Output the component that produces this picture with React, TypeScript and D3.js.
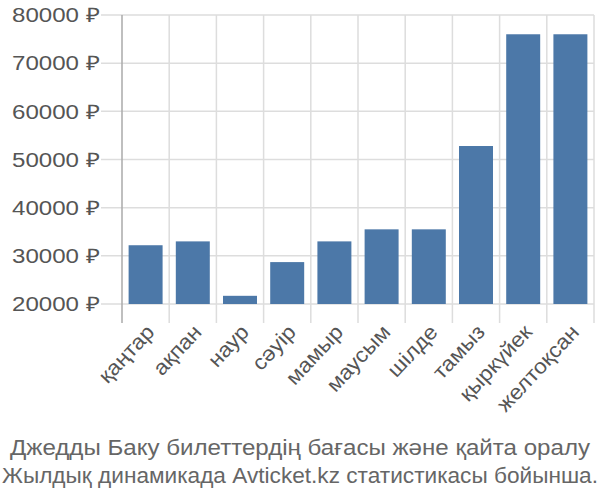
import React from "react";
import * as d3 from "d3";

const months = ["қаңтар", "ақпан", "наур", "сәуір", "мамыр", "маусым", "шілде", "тамыз", "қыркүйек", "желтоқсан"];
const prices = [32200, 33000, 21700, 28700, 33000, 35500, 35500, 52800, 76000, 76000];
const yTicks = [20000, 30000, 40000, 50000, 60000, 70000, 80000];
const titleLines = ["Джедды Баку билеттердің бағасы және қайта оралу", "Жылдық динамикада Avticket.kz статистикасы бойынша."];
const titleWidths = [580, 596];

export default function App() {
  const W = 600, H = 500;
  const left = 122, right = 594, top = 15, bottom = 304;
  const x = d3.scaleBand<string>().domain(months).range([left, right]).paddingInner(0.28).paddingOuter(0.14);
  const y = d3.scaleLinear().domain([20000, 80000]).range([bottom, top]);
  const step = x.step();
  const font = "'Liberation Sans', Arial, sans-serif";
  return (
    <svg width={W} height={H} style={{ position: "absolute", left: 0, top: 0 }} fontFamily={font}>
      {yTicks.map((t) => (
        <g key={t}>
          <line x1={101} x2={right} y1={y(t)} y2={y(t)} stroke="#ddd" strokeWidth={1.5} />
          <text x={12} y={y(t)} dy="0.36em" textAnchor="start" fontSize={20} fill="#555" textLength={88} lengthAdjust="spacingAndGlyphs">{`${t} ₽`}</text>
        </g>
      ))}
      {months.map((m, i) => (
        <line key={m} x1={left + i * step + step} x2={left + i * step + step} y1={top} y2={323} stroke="#ddd" strokeWidth={1.5} />
      ))}
      <line x1={left} x2={left} y1={top} y2={323} stroke="#aaa" strokeWidth={1.5} />
      {months.map((m, i) => (
        <rect key={m} x={x(m)} y={y(prices[i])} width={x.bandwidth()} height={bottom - y(prices[i])} fill="#4c78a8" />
      ))}
      {months.map((m) => {
        const cx = (x(m) as number) + x.bandwidth() / 2 + 10;
        const cy = 333;
        return (
          <text key={m} x={0} y={0} textAnchor="end" fontSize={21} fill="#555" transform={`translate(${cx},${cy}) rotate(-47) scale(1.08,1)`}>{m}</text>
        );
      })}
      {titleLines.map((l, i) => (
        <text key={i} x={300 - titleWidths[i] / 2} y={455 + i * 28} textAnchor="start" fontSize={22} fill="#666" textLength={titleWidths[i]} lengthAdjust="spacingAndGlyphs">{l}</text>
      ))}
    </svg>
  );
}
